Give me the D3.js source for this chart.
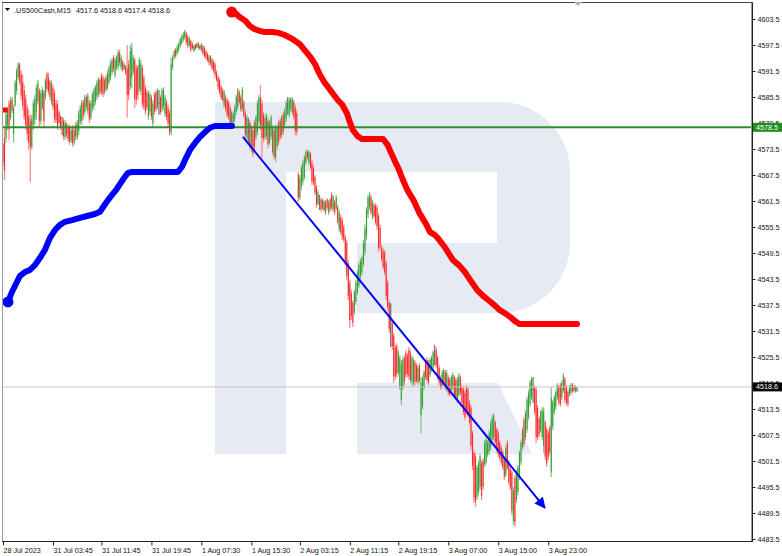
<!DOCTYPE html>
<html><head><meta charset="utf-8">
<script src="https://cdn.jsdelivr.net/npm/d3@7"></script>
<style>html,body{margin:0;padding:0;background:#fff;overflow:hidden}svg{display:block}</style>
</head><body>
<svg id="c" width="782" height="556"></svg>
<script>
// ---------- data ----------
const symbol = ".US500Cash,M15";
const headerVals = ["4517.6", "4518.6", "4517.4", "4518.6"];

// [open, high, low, close] per M15 bar
const ohlc = [
[4574.5,4574.9,4569.4,4570.6],[4576.0,4578.6,4566.4,4568.5],[4576.0,4582.5,4574.9,4581.5],[4579.0,4583.2,4577.9,4582.6],
[4584.0,4584.8,4575.6,4578.0],[4580.8,4585.5,4580.2,4584.6],[4585.0,4585.5,4581.8,4582.4],[4577.0,4583.7,4574.9,4583.0],
[4583.6,4589.4,4583.2,4588.8],[4587.0,4592.2,4586.0,4591.6],[4590.0,4593.6,4589.4,4593.0],[4593.0,4593.4,4588.3,4589.0],
[4590.8,4591.7,4584.8,4585.8],[4589.0,4590.6,4582.5,4583.6],[4587.0,4588.3,4580.2,4581.0],[4585.0,4586.0,4577.9,4579.0],
[4583.0,4583.7,4575.6,4577.0],[4581.0,4582.5,4573.3,4575.0],[4580.0,4581.4,4565.9,4574.0],[4574.0,4581.4,4573.3,4580.5],
[4579.0,4584.8,4577.9,4584.0],[4580.5,4586.0,4579.1,4585.2],[4582.0,4588.3,4580.2,4587.6],[4584.5,4589.4,4583.7,4588.8],
[4587.0,4587.6,4578.6,4580.0],[4580.0,4587.1,4579.1,4586.4],[4583.0,4587.8,4582.5,4587.2],[4586.6,4587.1,4578.6,4580.0],
[4585.4,4589.9,4584.8,4589.3],[4590.8,4591.3,4586.7,4587.4],[4590.0,4591.1,4586.0,4586.8],[4589.0,4589.4,4584.8,4585.5],
[4584.4,4589.4,4583.7,4588.6],[4587.6,4588.3,4582.5,4583.3],[4586.4,4587.1,4579.5,4580.5],[4584.0,4584.8,4579.5,4580.2],
[4583.8,4584.8,4577.9,4578.8],[4582.0,4582.5,4579.1,4579.6],[4581.0,4581.4,4577.9,4578.4],[4578.6,4580.9,4576.7,4578.6],
[4580.0,4580.7,4575.6,4576.4],[4576.3,4580.2,4575.6,4579.5],[4579.2,4579.7,4576.1,4576.8],[4578.6,4579.1,4575.1,4575.8],
[4578.4,4579.1,4574.4,4575.2],[4575.4,4578.4,4574.9,4577.8],[4578.2,4579.1,4574.0,4574.8],[4575.0,4578.4,4574.4,4577.8],
[4579.0,4579.7,4575.6,4576.4],[4576.2,4580.2,4575.6,4579.6],[4577.6,4582.5,4576.7,4581.8],[4579.8,4583.7,4579.1,4583.0],
[4580.0,4584.8,4579.1,4584.2],[4584.2,4584.8,4580.2,4581.0],[4582.0,4586.0,4581.4,4585.4],[4585.4,4586.0,4582.5,4583.2],
[4582.2,4586.4,4581.4,4585.8],[4584.2,4584.8,4579.5,4580.4],[4580.8,4584.8,4580.2,4584.0],[4582.8,4586.7,4582.1,4586.0],
[4583.4,4587.6,4582.5,4587.0],[4584.4,4588.3,4583.7,4587.8],[4585.6,4589.4,4584.8,4588.8],[4586.0,4590.1,4585.3,4589.6],
[4589.4,4589.9,4586.0,4586.6],[4590.4,4591.1,4586.0,4586.8],[4590.0,4590.6,4585.5,4586.2],[4586.6,4589.9,4586.0,4589.4],
[4590.0,4590.6,4586.7,4587.2],[4587.6,4591.7,4587.1,4591.0],[4589.0,4592.9,4588.3,4592.2],[4590.0,4594.1,4589.4,4593.4],
[4591.2,4594.5,4590.6,4594.0],[4594.6,4595.2,4591.3,4592.0],[4590.6,4594.5,4589.9,4594.0],[4592.2,4595.2,4591.7,4594.8],
[4592.6,4596.4,4591.7,4595.8],[4595.8,4596.4,4592.7,4593.4],[4592.4,4595.2,4591.7,4594.6],[4593.6,4594.1,4591.3,4591.8],
[4592.0,4593.4,4591.7,4593.0],[4592.6,4592.9,4590.6,4591.0],[4592.0,4597.5,4580.7,4586.0],[4593.0,4594.1,4584.8,4586.0],
[4588.0,4597.5,4587.1,4596.0],[4590.0,4598.0,4587.6,4596.8],[4591.4,4595.2,4590.6,4594.6],[4594.0,4594.5,4583.0,4585.0],
[4592.0,4592.9,4583.7,4585.0],[4592.4,4592.9,4584.8,4586.0],[4587.4,4594.7,4586.7,4594.0],[4587.0,4594.1,4586.0,4593.2],
[4592.2,4592.9,4583.0,4584.0],[4589.8,4590.6,4582.5,4583.4],[4587.6,4588.3,4581.4,4582.2],[4586.6,4587.1,4582.5,4583.0],
[4581.0,4587.1,4580.2,4586.4],[4582.2,4586.7,4581.4,4586.0],[4585.4,4586.0,4580.2,4581.0],[4579.4,4584.8,4578.4,4584.0],
[4586.0,4586.7,4581.4,4582.2],[4586.6,4587.1,4582.1,4582.8],[4583.2,4587.6,4582.5,4587.0],[4584.2,4587.1,4581.4,4584.2],
[4585.4,4586.0,4581.4,4582.0],[4582.8,4587.6,4582.1,4587.0],[4583.4,4587.8,4582.5,4587.2],[4581.6,4586.0,4580.9,4585.4],
[4584.2,4584.8,4580.2,4580.8],[4583.0,4583.7,4578.6,4579.4],[4581.8,4582.5,4576.7,4577.4],[4577.4,4594.7,4576.7,4593.0],
[4592.4,4595.2,4591.7,4594.6],[4594.6,4596.4,4594.1,4596.0],[4596.4,4596.8,4594.5,4595.0],[4595.6,4597.5,4595.2,4597.0],
[4596.4,4598.2,4595.9,4597.8],[4597.4,4599.1,4596.8,4598.8],[4598.0,4599.8,4597.5,4599.4],[4598.8,4600.5,4598.2,4600.0],
[4599.2,4601.0,4598.7,4600.6],[4600.2,4600.5,4597.5,4598.2],[4599.4,4599.8,4596.8,4597.4],[4597.4,4599.4,4597.1,4599.0],
[4598.4,4598.7,4595.9,4596.4],[4597.8,4598.2,4596.4,4596.8],[4596.2,4597.5,4595.9,4597.2],[4597.0,4597.7,4596.4,4597.0],
[4597.8,4598.0,4596.8,4597.0],[4596.8,4598.2,4596.4,4598.0],[4597.4,4597.5,4596.4,4596.6],[4596.2,4598.0,4595.9,4597.6],
[4597.2,4597.5,4595.2,4595.6],[4596.8,4597.3,4594.5,4595.0],[4596.0,4596.4,4594.1,4594.6],[4595.4,4595.9,4593.6,4594.0],
[4594.8,4595.2,4592.9,4593.4],[4593.0,4595.2,4592.7,4594.8],[4594.2,4594.5,4591.7,4592.2],[4593.6,4594.1,4591.1,4591.6],
[4593.0,4593.6,4589.9,4590.6],[4591.2,4591.7,4589.0,4589.4],[4590.0,4590.6,4587.1,4587.8],[4589.4,4589.9,4586.0,4586.6],
[4587.8,4588.3,4584.8,4585.4],[4587.0,4587.6,4584.4,4584.8],[4583.6,4587.1,4583.0,4586.6],[4585.4,4586.0,4582.1,4582.8],
[4584.8,4585.3,4580.7,4581.4],[4584.2,4584.8,4580.2,4580.8],[4583.0,4583.7,4578.4,4579.2],[4579.6,4582.5,4579.1,4582.0],
[4579.2,4582.1,4578.6,4581.6],[4580.4,4583.7,4579.7,4583.2],[4582.0,4586.0,4581.4,4585.4],[4583.2,4587.6,4582.5,4587.0],
[4586.6,4587.1,4583.7,4584.2],[4585.4,4586.0,4582.1,4582.6],[4582.8,4587.8,4582.1,4587.2],[4584.2,4584.8,4580.7,4581.2],
[4581.8,4582.5,4576.1,4576.8],[4576.2,4581.4,4575.6,4580.8],[4577.6,4580.7,4574.4,4577.6],[4579.6,4580.2,4573.3,4574.0],
[4573.4,4579.1,4572.8,4578.4],[4577.8,4578.4,4571.7,4572.4],[4579.6,4580.2,4573.3,4574.0],[4576.2,4581.4,4575.6,4580.8],
[4577.4,4584.8,4576.7,4584.0],[4579.8,4586.0,4579.1,4585.4],[4585.4,4588.3,4577.9,4579.0],[4584.0,4584.8,4571.4,4576.0],
[4581.4,4582.1,4575.1,4576.0],[4576.2,4581.4,4575.6,4580.6],[4576.4,4581.8,4575.6,4581.2],[4580.0,4580.7,4573.7,4574.6],
[4575.0,4580.2,4574.4,4579.6],[4576.4,4581.4,4575.6,4580.8],[4572.8,4579.1,4572.1,4578.4],[4577.8,4578.4,4571.0,4571.8],
[4571.4,4579.1,4570.5,4578.4],[4574.0,4579.1,4573.3,4578.6],[4579.6,4580.2,4574.4,4575.2],[4580.0,4580.7,4575.6,4576.2],
[4576.8,4581.4,4576.1,4580.8],[4581.4,4582.1,4576.7,4577.4],[4579.0,4583.0,4578.4,4582.4],[4580.4,4584.8,4579.7,4584.2],
[4583.4,4585.5,4581.4,4583.4],[4581.4,4585.3,4580.7,4584.8],[4582.8,4585.5,4582.1,4585.0],[4582.0,4585.5,4581.4,4585.0],
[4584.2,4584.8,4580.2,4580.8],[4583.0,4583.7,4576.7,4577.6],[4581.8,4582.5,4576.7,4577.4],[4567.6,4568.2,4561.3,4562.2],
[4562.4,4567.5,4561.7,4566.8],[4564.8,4569.8,4564.0,4569.2],[4566.0,4571.0,4565.2,4570.4],[4567.0,4572.1,4566.4,4571.6],
[4570.4,4573.3,4569.8,4572.8],[4573.0,4573.3,4571.0,4571.4],[4570.4,4573.3,4569.8,4572.8],[4572.4,4572.8,4568.7,4569.2],
[4570.4,4571.0,4565.2,4566.0],[4569.2,4569.8,4565.2,4565.8],[4567.0,4567.5,4562.9,4563.4],[4564.6,4565.2,4559.9,4560.6],
[4561.0,4564.0,4560.6,4563.4],[4561.0,4562.9,4559.4,4561.0],[4561.8,4562.2,4559.0,4559.6],[4559.8,4562.2,4559.4,4561.8],
[4561.4,4561.7,4559.0,4559.4],[4558.8,4561.7,4558.3,4561.2],[4561.8,4562.2,4559.4,4560.0],[4558.8,4561.7,4558.3,4561.2],
[4561.8,4562.2,4559.0,4559.6],[4563.0,4563.6,4559.4,4560.0],[4559.6,4562.9,4559.0,4562.4],[4561.2,4561.7,4558.3,4558.8],
[4559.8,4562.9,4559.4,4562.4],[4560.0,4560.6,4556.0,4556.6],[4555.0,4559.4,4554.4,4558.8],[4557.8,4558.3,4553.7,4554.2],
[4557.0,4557.6,4552.5,4553.2],[4555.4,4556.0,4552.0,4552.6],[4553.0,4553.7,4546.7,4547.4],[4551.8,4552.5,4543.3,4544.2],
[4547.2,4547.9,4538.6,4539.6],[4542.6,4543.3,4532.2,4534.0],[4540.2,4541.0,4534.0,4535.0],[4538.0,4538.6,4532.4,4533.4],
[4535.8,4541.0,4535.2,4540.4],[4538.2,4543.3,4537.5,4542.6],[4540.4,4545.6,4539.8,4545.0],[4542.0,4547.4,4541.4,4546.8],
[4544.0,4548.3,4543.3,4547.6],[4545.0,4549.0,4544.4,4548.4],[4547.0,4552.5,4546.3,4551.8],[4549.8,4556.0,4549.0,4555.2],
[4553.4,4560.1,4552.5,4559.4],[4558.4,4562.9,4557.6,4562.2],[4560.0,4563.6,4559.4,4563.0],[4562.4,4562.9,4558.3,4558.8],
[4557.8,4561.7,4557.1,4561.2],[4560.6,4561.0,4557.6,4558.0],[4560.4,4561.0,4556.0,4556.6],[4560.0,4560.6,4554.8,4555.6],
[4558.0,4558.7,4549.7,4550.6],[4555.4,4556.0,4550.2,4550.8],[4550.8,4551.3,4547.4,4548.0],[4550.0,4550.7,4545.6,4546.2],
[4549.6,4550.2,4544.4,4545.0],[4547.2,4547.9,4538.6,4539.6],[4542.6,4543.3,4536.3,4537.0],[4538.0,4538.6,4531.0,4532.0],
[4532.0,4537.9,4527.8,4532.0],[4533.4,4534.0,4527.1,4528.0],[4530.4,4531.0,4519.5,4521.0],[4527.6,4528.3,4520.2,4521.0],
[4528.0,4528.7,4520.9,4521.6],[4522.0,4527.1,4521.3,4526.4],[4518.6,4525.9,4517.9,4525.2],[4515.6,4524.8,4514.4,4524.0],
[4518.6,4525.5,4517.9,4524.8],[4525.2,4525.9,4519.0,4519.8],[4526.4,4527.1,4520.7,4521.4],[4525.8,4526.4,4520.9,4521.6],
[4527.0,4527.8,4520.2,4521.0],[4526.4,4527.1,4519.5,4520.2],[4519.8,4525.9,4519.0,4525.2],[4519.4,4525.5,4518.6,4524.8],
[4524.2,4524.8,4519.0,4519.8],[4523.6,4524.1,4519.5,4520.0],[4519.6,4523.6,4519.0,4523.0],[4523.6,4524.1,4519.5,4520.0],
[4512.0,4520.9,4507.9,4519.6],[4514.0,4521.3,4513.3,4520.6],[4518.4,4522.5,4517.9,4522.0],[4524.2,4524.8,4520.2,4520.8],
[4524.8,4525.5,4519.5,4520.2],[4524.2,4524.8,4519.0,4519.6],[4521.4,4525.3,4520.9,4524.8],[4522.6,4525.9,4522.0,4525.4],
[4523.0,4527.1,4522.5,4526.6],[4526.0,4528.3,4523.6,4526.0],[4527.2,4527.8,4523.0,4523.6],[4525.4,4525.9,4520.2,4520.8],
[4523.0,4523.6,4519.0,4519.6],[4520.8,4521.3,4517.9,4518.4],[4518.8,4522.5,4518.3,4522.0],[4519.6,4522.9,4519.0,4522.4],
[4522.0,4522.5,4517.9,4518.4],[4518.0,4522.5,4517.4,4521.8],[4520.8,4521.3,4516.7,4517.2],[4520.2,4520.7,4516.3,4516.8],
[4517.8,4521.3,4517.4,4520.8],[4518.4,4522.0,4517.9,4521.4],[4520.8,4521.3,4516.0,4516.6],[4520.2,4520.7,4515.6,4516.2],
[4515.6,4520.9,4514.9,4520.2],[4516.8,4521.8,4516.3,4521.2],[4520.8,4521.3,4516.7,4517.2],[4518.6,4519.0,4514.4,4515.0],
[4518.0,4518.6,4512.1,4512.8],[4517.2,4517.9,4510.9,4511.6],[4518.4,4519.0,4512.1,4512.8],[4518.0,4518.6,4511.4,4512.0],
[4515.0,4515.6,4509.8,4510.4],[4513.8,4514.4,4504.0,4505.0],[4508.0,4508.6,4499.4,4500.4],[4503.4,4504.0,4491.8,4493.0],
[4502.6,4503.3,4490.9,4492.2],[4493.2,4500.6,4492.5,4500.0],[4494.4,4501.7,4493.6,4501.0],[4495.6,4503.3,4494.8,4502.6],
[4501.0,4501.7,4492.5,4493.4],[4501.6,4502.2,4494.8,4495.6],[4500.8,4506.3,4500.1,4505.6],[4501.2,4507.0,4500.6,4506.4],
[4503.0,4506.3,4502.4,4505.8],[4503.6,4508.6,4502.9,4508.0],[4504.8,4510.9,4504.0,4510.2],[4506.4,4512.1,4505.6,4511.4],
[4507.0,4512.6,4506.3,4512.0],[4510.4,4510.9,4505.2,4505.8],[4508.8,4509.3,4503.4,4504.0],[4508.0,4508.6,4502.4,4503.0],
[4505.8,4506.3,4501.7,4502.2],[4504.6,4505.2,4500.6,4501.2],[4503.6,4504.0,4499.4,4500.0],[4501.8,4502.4,4497.1,4497.8],
[4498.4,4505.2,4497.8,4504.6],[4505.8,4506.3,4499.4,4500.0],[4501.2,4501.7,4495.9,4496.6],[4499.6,4500.1,4494.8,4495.4],
[4498.8,4499.4,4489.0,4490.0],[4487.6,4495.5,4486.7,4494.8],[4497.6,4498.3,4486.3,4487.4],[4492.6,4499.4,4491.8,4498.8],
[4494.4,4500.6,4493.6,4500.0],[4497.8,4504.0,4497.1,4503.4],[4501.2,4506.3,4500.6,4505.8],[4504.6,4509.3,4504.0,4508.8],
[4511.0,4511.7,4504.7,4505.4],[4507.0,4513.3,4506.3,4512.6],[4508.8,4516.3,4508.0,4515.6],[4511.6,4517.9,4510.9,4517.2],
[4514.6,4520.2,4514.0,4519.6],[4516.2,4520.9,4515.6,4520.4],[4518.0,4520.9,4514.9,4518.0],[4518.4,4519.0,4512.1,4512.8],
[4518.0,4518.6,4505.6,4507.0],[4513.8,4514.4,4506.3,4507.0],[4511.2,4511.7,4507.0,4507.6],[4508.6,4513.3,4508.0,4512.8],
[4507.0,4513.9,4506.3,4513.2],[4505.0,4513.9,4503.4,4513.0],[4510.4,4510.9,4501.7,4502.6],[4508.8,4509.3,4500.1,4501.0],
[4508.0,4508.6,4501.7,4502.4],[4509.2,4509.8,4502.9,4503.6],[4499.0,4518.6,4497.8,4516.0],[4509.4,4515.6,4508.6,4515.0],
[4512.8,4516.7,4512.1,4516.2],[4514.0,4517.9,4513.3,4517.4],[4516.2,4519.5,4515.6,4519.0],[4518.6,4519.0,4514.4,4515.0],
[4519.0,4519.5,4514.0,4514.6],[4516.2,4520.2,4515.6,4519.6],[4517.8,4521.8,4517.2,4521.2],[4520.4,4520.9,4514.9,4515.6],
[4518.6,4519.0,4514.4,4515.0],[4517.4,4517.9,4514.0,4514.6],[4516.8,4519.0,4516.3,4518.6],[4517.2,4519.5,4516.7,4519.0],
[4519.2,4519.5,4517.2,4517.6],[4518.8,4519.0,4517.4,4517.8],[4517.6,4519.0,4517.2,4518.6],[4517.6,4518.6,4517.4,4518.6]
];

const timeLabels = ["28 Jul 2023","31 Jul 03:45","31 Jul 11:45","31 Jul 19:45","1 Aug 07:30","1 Aug 15:30",
                    "2 Aug 03:15","2 Aug 11:15","2 Aug 19:15","3 Aug 07:00","3 Aug 15:00","3 Aug 23:00"];
const timeLabelBar = [0,33,65,98,131,164,196,229,261,294,327,360];

const priceTicks = [4603.5,4597.5,4591.5,4585.5,4579.5,4573.5,4567.5,4561.5,4555.5,4549.5,4543.5,
                    4537.5,4531.5,4525.5,4519.5,4513.5,4507.5,4501.5,4495.5,4489.5,4483.5];
const levelPrice = 4578.5;
const lastPrice = 4518.6;

// upper (red) and lower (blue) indicator lines: bar index / price
const redBar = [151,154,156,160,163,166,170,173,178,182,186,190,193,196,199,203,206,209,212,215,218,221,224,227,229,231,234,237,
                251,254,256,259,261,264,267,271,275,279,282,285,287,292,297,301,305,309,313,317,322,325,328,331,335,338,341,379];
const redVal = [4605.1,4604.7,4604.0,4603.1,4601.9,4601.2,4600.7,4600.5,4600.5,4600.3,4599.8,4599.1,4598.4,4597.7,4596.4,4594.7,
                4593.1,4590.8,4589.0,4587.6,4586.2,4584.8,4583.7,4581.8,4579.7,4577.9,4576.5,4575.8,4575.8,4574.4,4572.8,4570.5,
                4569.1,4566.4,4564.0,4561.7,4558.7,4556.4,4554.3,4553.7,4553.0,4550.7,4547.9,4546.7,4545.1,4543.0,4541.0,4539.6,
                4538.2,4537.3,4536.3,4535.7,4534.7,4533.8,4533.1,4533.1];
const redStubBar = [0, 3];
const redStubVal = [4582.5, 4582.5];
const blueBar = [3.3,5.9,8.6,11.2,14.5,17.8,21.1,24.4,27.7,31.0,34.3,37.6,40.9,45.6,50.8,56.1,60.7,64.0,66.7,69.3,72.0,74.6,77.2,
                 79.9,82.5,85.2,115.5,118.2,120.8,123.5,126.8,130.1,133.4,136.7,140.0,151.2];
const blueVal = [4538.2,4540.5,4542.4,4544.2,4545.1,4545.6,4546.7,4548.4,4550.2,4553.0,4554.8,4556.0,4556.7,4557.1,4557.6,4558.1,
                 4558.5,4559.0,4560.4,4561.7,4562.9,4564.0,4565.4,4566.8,4568.0,4568.2,4568.2,4569.4,4571.4,4573.3,4574.9,4576.3,
                 4577.4,4578.4,4578.8,4578.8];
// trend line (bar index / price)
const trendBar = [158.4, 357.8];
const trendVal = [4576.3, 4490.7];

// ---------- drawing ----------
const svg = d3.select('#c');
const L = 2, T = 2, R = 752, B = 541;
const FONT = '"Liberation Sans", Arial, sans-serif';
const FS = 7.2;

const x = d3.scaleLinear().domain([0, ohlc.length - 1]).range([3, 577]);
const y = d3.scaleLinear().domain([4483.5, 4603.5]).range([539, 19]);

const defs = svg.append('defs');
defs.append('clipPath').attr('id', 'pc').append('rect')
  .attr('x', L).attr('y', T).attr('width', R - L).attr('height', B - T);
defs.append('marker').attr('id', 'arr').attr('viewBox', '0 0 10 10')
  .attr('refX', 9).attr('refY', 5).attr('markerWidth', 13).attr('markerHeight', 11)
  .attr('markerUnits', 'userSpaceOnUse').attr('orient', 'auto')
  .append('path').attr('d', 'M0,0 L10,5 L0,10 Z').attr('fill', '#0000ff');

const g = svg.append('g').attr('clip-path', 'url(#pc)');

// watermark logo
g.append('path')
  .attr('d', 'M215,102 H500 A70,70 0 0 1 570,172 V243 A70,70 0 0 1 500,313 H357 V243 H497 V172 H286 V454 H215 Z M357,383 H498 L532,454 H357 Z')
  .attr('fill', '#e5eaf3');

// candles
const col = d => d[3] > d[0] ? 'up' : (d[3] < d[0] ? 'dn' : 'dj');
const light = {up: '#86c886', dn: '#ff8c8c', dj: '#777'};
const dark = {up: '#2e962e', dn: '#f51c1c', dj: '#333'};
const cg = g.append('g');
cg.selectAll('line.w').data(ohlc).join('line').attr('class', 'w')
  .attr('x1', (d, i) => x(i)).attr('x2', (d, i) => x(i))
  .attr('y1', d => y(d[1])).attr('y2', d => y(d[2]))
  .attr('stroke', d => light[col(d)]).attr('stroke-width', 1.3);
cg.selectAll('rect.b').data(ohlc).join('rect').attr('class', 'b')
  .attr('x', (d, i) => x(i) - 0.45).attr('width', 0.9)
  .attr('y', d => y(Math.max(d[0], d[3])))
  .attr('height', d => Math.max(0.8, Math.abs(y(d[0]) - y(d[3]))))
  .attr('fill', d => dark[col(d)]);

// current price line
g.append('line').attr('x1', L).attr('x2', R).attr('y1', y(lastPrice)).attr('y2', y(lastPrice))
  .attr('stroke', '#c8c8c8').attr('stroke-width', 1);
// horizontal level
g.append('line').attr('x1', L).attr('x2', R).attr('y1', y(levelPrice)).attr('y2', y(levelPrice))
  .attr('stroke', '#2f8f2f').attr('stroke-width', 2);

// indicator lines
const ln = d3.line().x(p => x(p[0])).y(p => y(p[1]));
const redPts = redBar.map((b, i) => [b, redVal[i]]);
const bluePts = blueBar.map((b, i) => [b, blueVal[i]]);
const stubPts = redStubBar.map((b, i) => [b, redStubVal[i]]);
g.append('path').attr('d', ln(stubPts)).attr('fill', 'none').attr('stroke', '#ff0000')
  .attr('stroke-width', 5);
g.append('path').attr('d', ln(redPts)).attr('fill', 'none').attr('stroke', '#ff0000')
  .attr('stroke-width', 6).attr('stroke-linejoin', 'round').attr('stroke-linecap', 'round');
g.append('circle').attr('cx', x(redPts[0][0])).attr('cy', y(redPts[0][1])).attr('r', 5.5).attr('fill', '#ff0000');
g.append('path').attr('d', ln(bluePts)).attr('fill', 'none').attr('stroke', '#0000ff')
  .attr('stroke-width', 6).attr('stroke-linejoin', 'round').attr('stroke-linecap', 'round');
g.append('circle').attr('cx', x(bluePts[0][0])).attr('cy', y(bluePts[0][1])).attr('r', 5.5).attr('fill', '#0000ff');

// trend line with arrow
g.append('line')
  .attr('x1', x(trendBar[0])).attr('y1', y(trendVal[0]))
  .attr('x2', x(trendBar[1])).attr('y2', y(trendVal[1]))
  .attr('stroke', '#0000ff').attr('stroke-width', 2).attr('marker-end', 'url(#arr)');

// frame
svg.append('rect').attr('x', L + 0.5).attr('y', T + 0.5).attr('width', R - L - 1).attr('height', B - T)
  .attr('fill', 'none').attr('stroke', '#9a9a9a');
svg.append('line').attr('x1', R + 0.5).attr('x2', R + 0.5).attr('y1', T).attr('y2', B + 1).attr('stroke', '#222');
svg.append('line').attr('x1', L).attr('x2', R + 1).attr('y1', B + 0.5).attr('y2', B + 0.5).attr('stroke', '#222');
svg.append('line').attr('x1', L).attr('x2', R + 1).attr('y1', T + 0.5).attr('y2', T + 0.5).attr('stroke', '#444');

// price axis
const ya = svg.append('g').attr('transform', `translate(${R + 0.5},0)`)
  .call(d3.axisRight(y).tickValues(priceTicks).tickSize(3).tickFormat(d3.format('.1f')));
ya.select('.domain').remove();
ya.selectAll('line').attr('stroke', '#222');
ya.selectAll('text').attr('x', 5).attr('font-family', FONT).attr('font-size', FS).attr('fill', '#111');

// time axis
const xa = svg.append('g').attr('transform', `translate(0,${B + 0.5})`)
  .call(d3.axisBottom(x).tickValues(timeLabelBar).tickSize(4).tickFormat((d, i) => timeLabels[i]));
xa.select('.domain').remove();
xa.selectAll('line').attr('stroke', '#222');
xa.selectAll('text').attr('text-anchor', 'start').attr('x', 0).attr('y', 6)
  .attr('font-family', FONT).attr('font-size', FS).attr('fill', '#111');

// price tags
function tag(p, bg) {
  svg.append('rect').attr('x', R + 1).attr('y', y(p) - 4.5).attr('width', 29).attr('height', 9).attr('fill', bg);
  svg.append('text').attr('x', R + 4).attr('y', y(p)).attr('dy', '0.34em')
    .attr('font-family', FONT).attr('font-size', FS).attr('fill', '#fff').text(d3.format('.1f')(p));
}
tag(levelPrice, '#1f8f1f');
tag(lastPrice, '#000');

// header
svg.append('path').attr('d', 'M5,8 L10,8 L7.5,11 Z').attr('fill', '#000');
svg.append('text').attr('x', 14).attr('y', 12.5).attr('font-family', FONT).attr('font-size', FS)
  .attr('fill', '#111').text(symbol);
svg.append('text').attr('x', 76).attr('y', 12.5).attr('font-family', FONT).attr('font-size', FS)
  .attr('fill', '#111').text(headerVals.join(' '));
// chart-shift marker
svg.append('path').attr('d', 'M574,2 L582,2 L578,6 Z').attr('fill', '#b0b0b0');
</script>
</body></html>
